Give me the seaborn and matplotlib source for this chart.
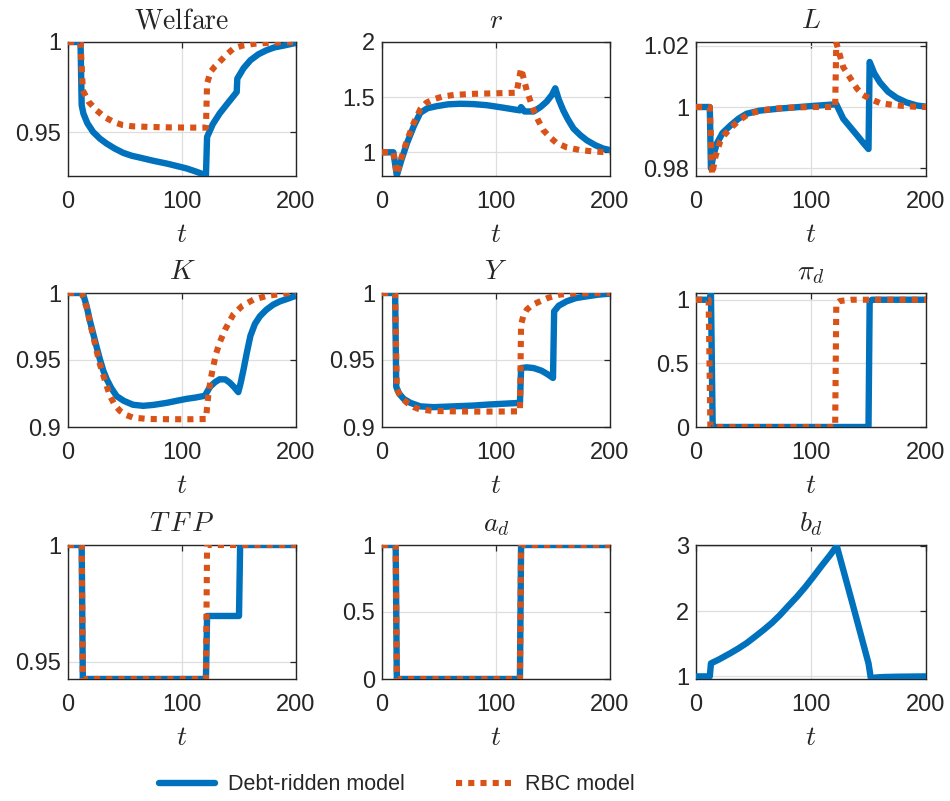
import matplotlib
matplotlib.use("Agg")
import matplotlib.pyplot as plt
import seaborn as sns
from matplotlib.lines import Line2D
from matplotlib.ticker import FuncFormatter

# values (time t, level relative to steady state)
welfare_debt_t = [0, 11, 12, 13.5, 17, 22, 28, 34, 41, 48.5, 56, 63, 75, 86.5, 95, 104, 112, 121,
                  122, 127, 133, 140, 148, 148.5, 154, 160, 167, 174, 181, 189, 200]
welfare_debt = [1.0, 1.0, 0.965, 0.9604, 0.955, 0.9502, 0.9465, 0.9437, 0.941, 0.9386, 0.937,
                0.936, 0.9342, 0.9327, 0.9314, 0.930, 0.9283, 0.9262,
                0.9474, 0.9545, 0.9604, 0.966, 0.9723, 0.9797, 0.9855, 0.9899, 0.9932, 0.9954,
                0.997, 0.998, 0.9995]
welfare_rbc_t = [0, 11, 13, 18, 25, 32, 40, 48, 57, 70, 90, 110, 121, 122, 125, 129, 133, 139,
                 145, 153, 163, 180, 200]
welfare_rbc = [1.0, 1.0, 0.9733, 0.967, 0.9622, 0.9585, 0.9557, 0.954, 0.9533, 0.953, 0.9527,
               0.9526, 0.9526, 0.977, 0.9834, 0.9866, 0.989, 0.993, 0.9963, 0.998, 0.999,
               0.9997, 1.0]

r_debt_t = [0, 10, 13, 17, 22, 28, 33.6, 40, 48, 58, 68.6, 80, 92, 106, 121, 122, 125, 133,
            139, 144.5, 149, 152, 155, 159, 163, 168, 174, 179.6, 187, 194, 200]
r_debt = [1.0, 1.0, 0.79, 0.93, 1.085, 1.24, 1.358, 1.40, 1.418, 1.435, 1.44, 1.437, 1.427,
          1.405, 1.38, 1.41, 1.37, 1.37, 1.41, 1.46, 1.52, 1.58, 1.48, 1.38, 1.30, 1.215,
          1.155, 1.109, 1.065, 1.034, 1.02]
r_rbc_t = [0, 10, 13, 17, 22, 28, 33.6, 39, 45, 53, 63, 80, 100, 118, 122, 124.5, 127, 130,
           133, 137, 141.6, 147, 153, 162, 173.7, 187, 200]
r_rbc = [1.0, 1.0, 0.80, 0.95, 1.11, 1.27, 1.39, 1.45, 1.48, 1.505, 1.52, 1.53, 1.535, 1.54,
         1.76, 1.66, 1.56, 1.47, 1.38, 1.29, 1.20, 1.14, 1.085, 1.045, 1.02, 1.006, 1.0]

l_debt_t = [0, 12, 13, 15, 18, 23, 30, 37, 44, 55, 73, 100, 122, 128, 134, 140, 145, 150, 151,
            155, 160, 167, 174.5, 183, 192, 200]
l_debt = [1.0, 1.0, 0.98, 0.984, 0.988, 0.9915, 0.994, 0.9962, 0.9978, 0.9988, 0.9995, 1.0003,
          1.0009, 0.9962, 0.9935, 0.9908, 0.9885, 0.9863, 1.0147, 1.011, 1.008, 1.005, 1.003,
          1.0015, 1.0005, 1.0001]
l_rbc_t = [0, 12, 14, 17, 21, 25, 30, 37, 44, 51, 59, 75, 100, 121, 122, 125, 128, 134, 140,
           145, 151, 160, 174.5, 190, 200]
l_rbc = [1.0, 1.0, 0.978, 0.984, 0.9887, 0.991, 0.9931, 0.9955, 0.9973, 0.9983, 0.999, 0.9997,
         1.0, 1.0, 1.021, 1.017, 1.013, 1.0095, 1.006, 1.004, 1.0027, 1.0013, 1.0005, 1.0001, 1.0]

k_debt_t = [0, 13, 16.4, 19, 22, 25, 28, 31, 34, 38, 42.7, 49, 57, 66, 75, 86.5, 95, 104, 112,
            120, 124.6, 129, 133, 138, 142, 146, 149.4, 151.5, 154, 157, 160, 164, 168.4, 174,
            180, 186, 192, 200]
k_debt = [1.0, 1.0, 0.990, 0.980, 0.970, 0.960, 0.9505, 0.942, 0.9356, 0.929, 0.923, 0.9195,
          0.9166, 0.9158, 0.9165, 0.918, 0.9195, 0.921, 0.922, 0.9233, 0.930, 0.9335, 0.9356,
          0.9355, 0.933, 0.9295, 0.926, 0.933, 0.943, 0.956, 0.968, 0.977, 0.9827, 0.9875,
          0.9913, 0.9938, 0.9955, 0.998]
k_rbc_t = [0, 12, 16.4, 19, 22, 25, 28, 33, 37, 41, 45.6, 51, 57, 70, 90, 110, 121, 123, 125,
           127.5, 130, 133, 138, 145, 153, 162.6, 175, 192, 200]
k_rbc = [1.0, 1.0, 0.989, 0.979, 0.968, 0.957, 0.9468, 0.933, 0.923, 0.9165, 0.912, 0.909,
         0.907, 0.906, 0.9058, 0.9058, 0.906, 0.923, 0.935, 0.9455, 0.955, 0.963, 0.973, 0.984,
         0.9905, 0.995, 0.998, 0.9998, 1.0]

y_debt_t = [0, 11.5, 12.5, 15, 19, 25, 33.6, 45, 62.8, 80, 92, 105, 121, 122, 127, 133, 140,
            145, 150, 151, 155, 162, 170, 179.6, 190, 200]
y_debt = [1.0, 1.0, 0.930, 0.925, 0.921, 0.918, 0.9154, 0.9148, 0.9154, 0.916, 0.9167, 0.9173,
          0.918, 0.944, 0.9445, 0.944, 0.942, 0.9395, 0.9366, 0.9863, 0.9905, 0.9938, 0.9962,
          0.9975, 0.9988, 0.9995]
y_rbc_t = [0, 11.5, 13, 17, 22, 28, 33.6, 45, 60, 80, 100, 121, 122, 124, 127, 132, 138.7, 146,
           156, 170, 200]
y_rbc = [1.0, 1.0, 0.928, 0.922, 0.918, 0.9148, 0.913, 0.912, 0.9117, 0.9115, 0.9115, 0.9117,
         0.9764, 0.983, 0.9876, 0.9912, 0.9938, 0.9965, 0.9988, 0.9997, 1.0]

pid_debt_t = [0, 12, 13, 14.5, 16, 150, 151, 153, 200]
pid_debt = [1.0, 1.0, 1.05, 0.0, 0.0, 0.0, 0.98, 1.0, 1.0]
pid_rbc_t = [0, 11, 12.5, 121, 122, 125, 135, 200]
pid_rbc = [1.0, 1.0, 0.0, 0.0, 0.97, 0.99, 1.0, 1.0]

tfp_debt_t = [0, 12, 13, 121, 122, 150, 151, 200]
tfp_debt = [1.0, 1.0, 0.9426, 0.9426, 0.9696, 0.9696, 1.0, 1.0]
tfp_rbc_t = [0, 12, 13, 121, 122, 200]
tfp_rbc = [1.0, 1.0, 0.9426, 0.9426, 1.0, 1.0]

ad_debt_t = [0, 12, 13, 121, 122, 200]
ad_debt = [1.0, 1.0, 0.0, 0.0, 1.0, 1.0]
ad_rbc_t = [0, 12, 13, 121, 122, 200]
ad_rbc = [1.0, 1.0, 0.0, 0.0, 1.0, 1.0]

bd_debt_t = [0, 12, 13, 20, 30, 37, 44, 51, 58.8, 66, 73, 80, 87.7, 95, 102, 109, 116.6, 122.4,
             136, 150, 152, 158, 163, 175, 200]
bd_debt = [1.0, 1.0, 1.2, 1.26, 1.357, 1.43, 1.51, 1.605, 1.713, 1.82, 1.94, 2.075, 2.22, 2.37,
           2.527, 2.69, 2.86, 3.0, 2.12, 1.2, 0.975, 0.985, 0.99, 0.995, 1.0]

titles = [r"$\mathrm{Welfare}$", r"$r$", r"$L$", r"$K$", r"$Y$", r"$\pi_d$",
          r"$T\,F\,P$", r"$a_d$", r"$b_d$"]
y_ticks = [[0.95, 1], [1, 1.5, 2], [0.98, 1, 1.02], [0.9, 0.95, 1], [0.9, 0.95, 1],
           [0, 0.5, 1], [0.95, 1], [0, 0.5, 1], [1, 2, 3]]
y_limits = [(0.9258, 1.0), (0.785, 2.0), (0.9775, 1.0212), (0.9, 1.0), (0.9, 1.0),
            (0.0, 1.053), (0.9426, 1.0), (0.0, 1.0), (0.96, 3.015)]
legend_labels = ["Debt-ridden model", "RBC model"]

debt_series = [(welfare_debt_t, welfare_debt), (r_debt_t, r_debt), (l_debt_t, l_debt),
               (k_debt_t, k_debt), (y_debt_t, y_debt), (pid_debt_t, pid_debt),
               (tfp_debt_t, tfp_debt), (ad_debt_t, ad_debt), (bd_debt_t, bd_debt)]
rbc_series = [(welfare_rbc_t, welfare_rbc), (r_rbc_t, r_rbc), (l_rbc_t, l_rbc),
              (k_rbc_t, k_rbc), (y_rbc_t, y_rbc), (pid_rbc_t, pid_rbc),
              (tfp_rbc_t, tfp_rbc), (ad_rbc_t, ad_rbc), None]

BLUE = "#0072BD"
ORANGE = "#D95319"

sns.set_style("white")
plt.rcParams["font.family"] = ["Liberation Sans", "DejaVu Sans"]
plt.rcParams["mathtext.fontset"] = "cm"

fig = plt.figure(figsize=(9.5, 8.01), dpi=100)

col_left = [68 / 950, 382 / 950, 696 / 950]
col_width = [228 / 950, 228 / 950, 230 / 950]
row_bottom = [1 - 176 / 801, 1 - 427 / 801, 1 - 679 / 801]
row_height = 134 / 801

fmt = FuncFormatter(lambda v, pos: f"{v:g}")

for i in range(9):
    r, c = divmod(i, 3)
    ax = fig.add_axes([col_left[c], row_bottom[r], col_width[c], row_height])

    t, v = debt_series[i]
    sns.lineplot(x=t, y=v, ax=ax, color=BLUE, lw=4.6, estimator=None, sort=False,
                 solid_joinstyle="round", solid_capstyle="round", zorder=3)
    if rbc_series[i] is not None:
        t, v = rbc_series[i]
        sns.lineplot(x=t, y=v, ax=ax, color=ORANGE, lw=4.4, estimator=None, sort=False,
                     linestyle=(0, (1.0, 1.0)), dash_capstyle="butt", zorder=4)

    ax.set_xlim(0, 200)
    ax.set_ylim(*y_limits[i])
    ax.set_xticks([0, 100, 200])
    ax.set_yticks(y_ticks[i])
    ax.yaxis.set_major_formatter(fmt)
    ax.grid(True, color="#dedede", lw=0.9)
    ax.set_axisbelow(True)
    ax.tick_params(direction="in", length=4, width=0.9, top=True, right=True,
                   labelsize=17, colors="#262626")
    ax.tick_params(axis="x", pad=11)
    ax.tick_params(axis="y", pad=5)
    for s in ax.spines.values():
        s.set_color("#262626")
        s.set_linewidth(1.0)
    ax.set_title(titles[i], fontsize=20, pad=10)
    ax.set_xlabel(r"$t$", fontsize=20, labelpad=6)
    ax.set_ylabel("")

handles = [Line2D([], [], color=BLUE, lw=4.6),
           Line2D([], [], color=ORANGE, lw=4.4, linestyle=(0, (1.0, 1.0)))]
fig.legend(handles, legend_labels, loc="center", bbox_to_anchor=(0.418, 1 - 785 / 801),
           ncol=2, frameon=False, fontsize=15.5, handlelength=2.6, handletextpad=0.6,
           columnspacing=2.4)

fig.savefig("out.png", dpi=100)
